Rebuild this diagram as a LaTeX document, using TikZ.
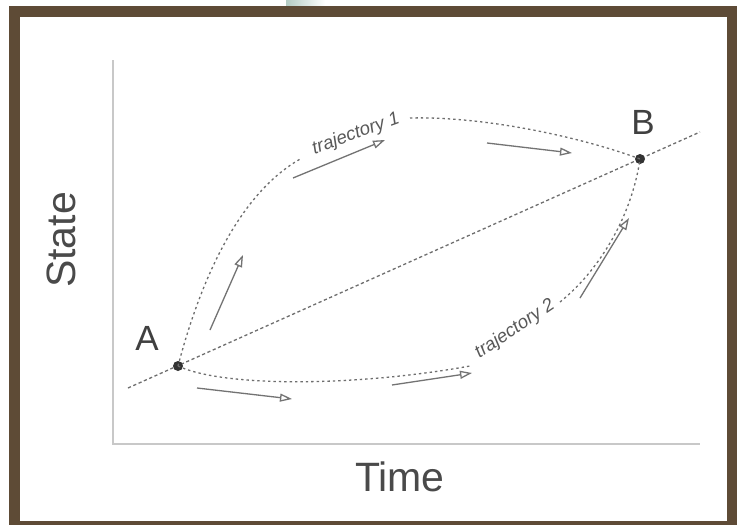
\documentclass[tikz,border=0pt]{standalone}
\usepackage{fontspec}
\setmainfont{Liberation Sans}
\usetikzlibrary{arrows.meta}
\definecolor{framebrown}{HTML}{5E4B36}
\definecolor{axisgray}{HTML}{C8C8C8}
\definecolor{curvegray}{HTML}{6E6E6E}
\definecolor{textgray}{HTML}{4A4A4A}
\definecolor{tealtint}{HTML}{B4CCC4}
\tikzset{
  dotpt/.style={circle,fill=black!80,inner sep=0pt,minimum size=10pt},
  axislabel/.style={text=textgray,font=\fontsize{41}{41}\selectfont},
  ptlabel/.style={text=black!75,font=\fontsize{35}{35}\selectfont},
  trajlabel/.style={text=black!65,font=\itshape\fontsize{18.5}{18.5}\selectfont,inner sep=0pt},
  trajline/.style={curvegray,line width=1.3pt,dash pattern=on 2.4pt off 3pt},
  diagline/.style={curvegray,line width=1.3pt,dash pattern=on 3.2pt off 2.6pt},
  dirarrow/.style={black!55,line width=1.3pt,-{Triangle[open,length=12pt,width=8pt]}},
  axisline/.style={axisgray,line width=2.4pt}
}
\begin{document}
\begin{tikzpicture}[x=1pt,y=-1pt]
\useasboundingbox (0,0) rectangle (737,525);
\fill[white] (0,0) rectangle (737,525);
\shade[left color=tealtint,right color=white] (286,0) rectangle (325,6);
\fill[framebrown] (9,6) rectangle (737,525);
\fill[white] (20,17) rectangle (727,521);
% axes
\coordinate (O) at (113,444);
\coordinate (Ytop) at (113,60);
\coordinate (Xend) at (700,444);
\draw[axisline] (Ytop) -- (O) -- (Xend);
\node[axislabel,rotate=90] (ylab) at (61,240) {State};
\node[axislabel] (xlab) at (400,477) {Time};
% points
\coordinate (L) at (128,388);
\coordinate (R) at (700,132);
\draw[diagline] (L) -- (R);
\node[dotpt] (A) at (178,366) {};
\node[dotpt] (B) at (640,159) {};
\node[ptlabel] (Alab) at (147,338) {A};
\node[ptlabel] (Blab) at (643,122) {B};
% trajectory 1
\draw[trajline] (A.center) .. controls (198,290) and (235,195) .. (302,158);
\draw[trajline] (410,118) .. controls (490,116) and (590,140) .. (B.center);
\node[trajlabel,rotate=20] (t1) at (356,134) {trajectory 1};
% trajectory 2
\draw[trajline] (A.center) .. controls (225,388) and (360,386) .. (470,366);
\draw[trajline] (560,302) .. controls (600,270) and (632,215) .. (B.center);
\node[trajlabel,rotate=34] (t2) at (515,329) {trajectory 2};
% direction arrows
\coordinate (a1s) at (210,330); \coordinate (a1e) at (243,255);
\coordinate (a2s) at (293,178); \coordinate (a2e) at (385,140);
\coordinate (a3s) at (487,143); \coordinate (a3e) at (572,153);
\coordinate (a4s) at (197,388); \coordinate (a4e) at (292,399);
\coordinate (a5s) at (392,385); \coordinate (a5e) at (472,373);
\coordinate (a6s) at (580,298); \coordinate (a6e) at (629,218);
\draw[dirarrow] (a1s) -- (a1e);
\draw[dirarrow] (a2s) -- (a2e);
\draw[dirarrow] (a3s) -- (a3e);
\draw[dirarrow] (a4s) -- (a4e);
\draw[dirarrow] (a5s) -- (a5e);
\draw[dirarrow] (a6s) -- (a6e);
\end{tikzpicture}
\end{document}
